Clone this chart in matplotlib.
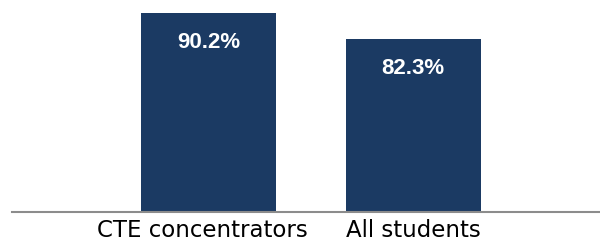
import matplotlib
matplotlib.use('Agg')
import matplotlib.pyplot as plt
import matplotlib.transforms as mtransforms

categories = ['CTE concentrators', 'All students']
values = [90.2, 82.3]
labels = ['90.2%', '82.3%']

navy = '#1B3A63'

fig = plt.figure(figsize=(6.0, 2.42), dpi=100)
ax = fig.add_axes([0.02, 0.124, 0.98, 0.876])

x = range(len(categories))
ax.bar(x, values, width=0.66, color=navy, zorder=1)

for xi, v, lab in zip(x, values, labels):
    ax.annotate(lab, (xi, v), xytext=(0, -25.5), textcoords='offset points',
                ha='center', va='baseline', color='white', fontsize=16,
                fontweight='bold', family='Liberation Sans')

ax.set_xlim(-0.961, 1.914)
ax.set_ylim(30.73, 93.93)

for s in ['top', 'right', 'left']:
    ax.spines[s].set_visible(False)
ax.spines['bottom'].set_color('#8C8C8C')
ax.spines['bottom'].set_linewidth(1.5)
ax.spines['bottom'].set_zorder(3)

ax.set_yticks([])
ax.set_xticks(list(x))
ax.set_xticklabels(categories, fontsize=16.5, family='DejaVu Sans', color='black')
ax.tick_params(axis='x', length=0, pad=5)

# the first label sits a little left of its bar in the original
shift = mtransforms.ScaledTranslation(-6 / 100, 0, fig.dpi_scale_trans)
lbl = ax.get_xticklabels()[0]
lbl.set_transform(lbl.get_transform() + shift)

fig.savefig('out.png', dpi=100)
